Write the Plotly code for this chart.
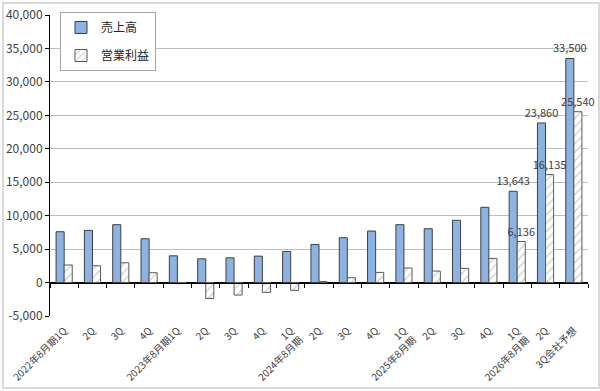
import plotly.graph_objects as go

labels = ["2022年8月期1Q", "2Q", "3Q", "4Q",
          "2023年8月期1Q", "2Q", "3Q", "4Q",
          "1Q<br>2024年8月期", "2Q", "3Q", "4Q",
          "1Q<br>2025年8月期", "2Q", "3Q", "4Q",
          "1Q<br>2026年8月期", "2Q", "3Q会社予想"]
sales = [7600, 7800, 8650, 6550, 4000, 3550, 3700, 3950, 4650, 5700, 6700,
         7700, 8650, 8050, 9300, 11250, 13643, 23860, 33500]
profit = [2620, 2510, 2960, 1470, -150, -2370, -1870, -1470, -1170, 150, 720,
          1520, 2170, 1720, 2120, 3610, 6136, 16135, 25540]
sales_text = ["" for _ in sales[:-3]] + ["13,643", "23,860", "33,500"]
profit_text = ["" for _ in profit[:-3]] + ["6,136", "16,135", "25,540"]
y_ticks = [-5000, 0, 5000, 10000, 15000, 20000, 25000, 30000, 35000, 40000]
y_ticktext = ["-5,000", "0", "5,000", "10,000", "15,000", "20,000", "25,000",
              "30,000", "35,000", "40,000"]

FONT = "Noto Sans CJK JP"
xs = list(range(len(labels)))

fig = go.Figure()
fig.add_trace(go.Bar(
    x=xs, y=sales, name="売上高", legendgroup="a",
    marker=dict(color="#8DB3E2", line=dict(color="#3F3F3F", width=1)),
    text=sales_text, textposition="outside", cliponaxis=False,
    constraintext="none",
    textfont=dict(family=FONT, size=11, color="#404040"),
))
fig.add_trace(go.Bar(
    x=xs, y=profit, name="営業利益", legendgroup="b",
    marker=dict(color="white", line=dict(color="#595959", width=1),
                pattern=dict(shape="/", fgcolor="#A6A6A6", bgcolor="white",
                             size=6, solidity=0.25)),
    text=profit_text, textposition="outside", cliponaxis=False,
    constraintext="none",
    textfont=dict(family=FONT, size=11, color="#404040"),
))
# invisible trace to carry the zero-level category axis
fig.add_trace(go.Scatter(x=xs, y=[None] * len(xs), xaxis="x2",
                         showlegend=False, hoverinfo="skip"))

n = len(labels)
fig.update_layout(
    width=600, height=391,
    margin=dict(l=50, r=12, t=15, b=75),
    paper_bgcolor="white", plot_bgcolor="white",
    font=dict(family=FONT, size=12, color="#404040"),
    barmode="group", bargap=0.43, bargroupgap=0,
    showlegend=True,
    legend=dict(x=0.0186, y=1.01, xanchor="left", yanchor="top",
                bordercolor="#A6A6A6", borderwidth=1, bgcolor="white",
                font=dict(family=FONT, size=12, color="#262626"),
                traceorder="grouped", tracegroupgap=9, itemwidth=30),
    xaxis=dict(range=[-0.5, n - 0.5], tickmode="array", tickvals=xs,
               ticktext=labels, tickangle=-45, showgrid=False,
               showline=False, ticks="", zeroline=False, automargin=False,
               ticklabelstandoff=6,
               tickfont=dict(family=FONT, size=10, color="#404040")),
    xaxis2=dict(range=[-0.5, n - 0.5], overlaying="x", anchor="free",
                position=5000 / 45000, showline=True, linecolor="black",
                linewidth=1, ticks="outside", ticklen=4, tickcolor="black",
                tickmode="array", tickvals=[i - 0.5 for i in range(n + 1)],
                showticklabels=False, showgrid=False, zeroline=False,
                automargin=False),
    yaxis=dict(range=[-5000, 40000], tickmode="array", tickvals=y_ticks,
               ticktext=y_ticktext, showgrid=True, gridcolor="#BFBFBF",
               gridwidth=1, zeroline=True, zerolinecolor="black",
               zerolinewidth=1, showline=True, linecolor="black",
               linewidth=1, ticks="outside", ticklen=4, tickcolor="black",
               automargin=False,
               tickfont=dict(family=FONT, size=12, color="#404040")),
)
fig.add_shape(type="rect", xref="paper", yref="paper",
              x0=-0.0874, x1=1.0204, y0=-0.2392, y1=1.0399,
              line=dict(color="#D9D9D9", width=2), layer="below")

fig.write_html("out.html")
